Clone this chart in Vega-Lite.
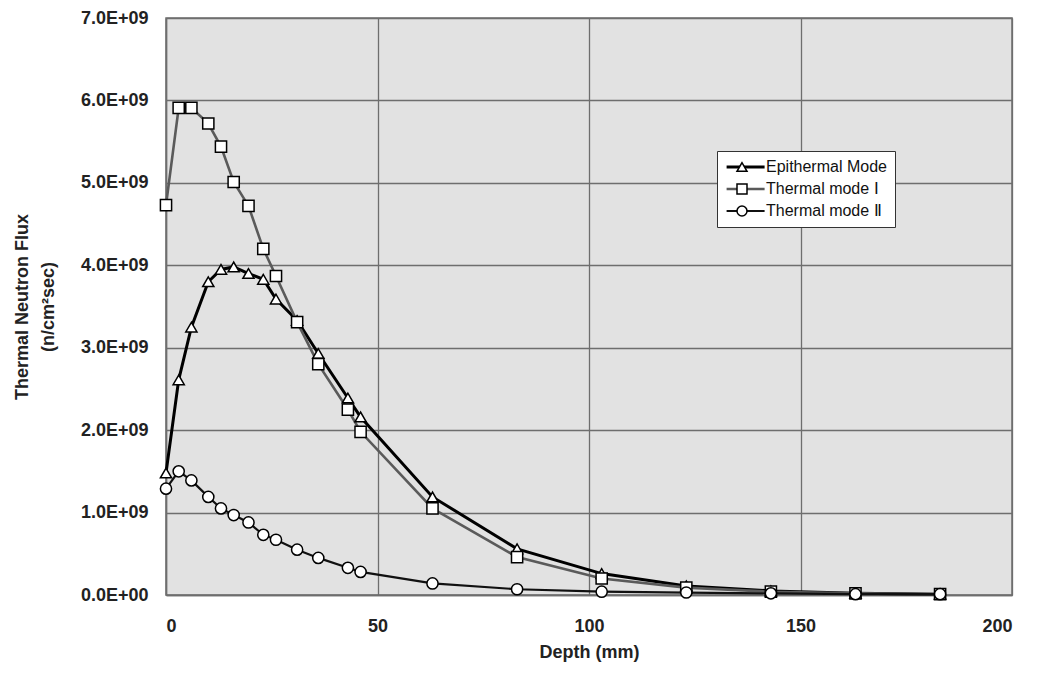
{
  "$schema": "https://vega.github.io/schema/vega-lite/v6.json",
  "autosize": {"type": "none"},
  "padding": {"left": 166, "top": 18, "right": 25, "bottom": 91},
  "width": 846,
  "height": 577,
  "background": "white",
  "config": {
    "font": "Liberation Sans",
    "view": {"fill": "#e2e2e2", "stroke": "#6e6e6e", "strokeWidth": 1.5},
    "axis": {
      "gridColor": "#6e6e6e", "gridWidth": 1.3, "gridOpacity": 1,
      "domainColor": "#6e6e6e", "domainWidth": 1.5,
      "ticks": false,
      "labelFont": "Liberation Sans", "labelFontSize": 18, "labelFontWeight": "bold", "labelColor": "#222222",
      "titleFont": "Liberation Sans", "titleFontSize": 18, "titleFontWeight": "bold", "titleColor": "#222222"
    }
  },
  "data": {"values": [
    {"series": "Epithermal Mode", "depth": 0, "flux": 1480000000},
    {"series": "Epithermal Mode", "depth": 3, "flux": 2610000000},
    {"series": "Epithermal Mode", "depth": 6, "flux": 3250000000},
    {"series": "Epithermal Mode", "depth": 10, "flux": 3800000000},
    {"series": "Epithermal Mode", "depth": 13, "flux": 3950000000},
    {"series": "Epithermal Mode", "depth": 16, "flux": 3980000000},
    {"series": "Epithermal Mode", "depth": 19.5, "flux": 3900000000},
    {"series": "Epithermal Mode", "depth": 23, "flux": 3830000000},
    {"series": "Epithermal Mode", "depth": 26, "flux": 3590000000},
    {"series": "Epithermal Mode", "depth": 31, "flux": 3330000000},
    {"series": "Epithermal Mode", "depth": 36, "flux": 2930000000},
    {"series": "Epithermal Mode", "depth": 43, "flux": 2390000000},
    {"series": "Epithermal Mode", "depth": 46, "flux": 2160000000},
    {"series": "Epithermal Mode", "depth": 63, "flux": 1190000000},
    {"series": "Epithermal Mode", "depth": 83, "flux": 560000000},
    {"series": "Epithermal Mode", "depth": 103, "flux": 260000000},
    {"series": "Epithermal Mode", "depth": 123, "flux": 110000000},
    {"series": "Epithermal Mode", "depth": 143, "flux": 50000000},
    {"series": "Epithermal Mode", "depth": 163, "flux": 20000000},
    {"series": "Epithermal Mode", "depth": 183, "flux": 10000000},
    {"series": "Thermal mode Ⅰ", "depth": 0, "flux": 4730000000},
    {"series": "Thermal mode Ⅰ", "depth": 3, "flux": 5910000000},
    {"series": "Thermal mode Ⅰ", "depth": 6, "flux": 5910000000},
    {"series": "Thermal mode Ⅰ", "depth": 10, "flux": 5720000000},
    {"series": "Thermal mode Ⅰ", "depth": 13, "flux": 5440000000},
    {"series": "Thermal mode Ⅰ", "depth": 16, "flux": 5010000000},
    {"series": "Thermal mode Ⅰ", "depth": 19.5, "flux": 4720000000},
    {"series": "Thermal mode Ⅰ", "depth": 23, "flux": 4200000000},
    {"series": "Thermal mode Ⅰ", "depth": 26, "flux": 3870000000},
    {"series": "Thermal mode Ⅰ", "depth": 31, "flux": 3310000000},
    {"series": "Thermal mode Ⅰ", "depth": 36, "flux": 2800000000},
    {"series": "Thermal mode Ⅰ", "depth": 43, "flux": 2250000000},
    {"series": "Thermal mode Ⅰ", "depth": 46, "flux": 1980000000},
    {"series": "Thermal mode Ⅰ", "depth": 63, "flux": 1050000000},
    {"series": "Thermal mode Ⅰ", "depth": 83, "flux": 460000000},
    {"series": "Thermal mode Ⅰ", "depth": 103, "flux": 200000000},
    {"series": "Thermal mode Ⅰ", "depth": 123, "flux": 90000000},
    {"series": "Thermal mode Ⅰ", "depth": 143, "flux": 40000000},
    {"series": "Thermal mode Ⅰ", "depth": 163, "flux": 20000000},
    {"series": "Thermal mode Ⅰ", "depth": 183, "flux": 10000000},
    {"series": "Thermal mode Ⅱ", "depth": 0, "flux": 1290000000},
    {"series": "Thermal mode Ⅱ", "depth": 3, "flux": 1500000000},
    {"series": "Thermal mode Ⅱ", "depth": 6, "flux": 1390000000},
    {"series": "Thermal mode Ⅱ", "depth": 10, "flux": 1190000000},
    {"series": "Thermal mode Ⅱ", "depth": 13, "flux": 1050000000},
    {"series": "Thermal mode Ⅱ", "depth": 16, "flux": 970000000},
    {"series": "Thermal mode Ⅱ", "depth": 19.5, "flux": 880000000},
    {"series": "Thermal mode Ⅱ", "depth": 23, "flux": 730000000},
    {"series": "Thermal mode Ⅱ", "depth": 26, "flux": 670000000},
    {"series": "Thermal mode Ⅱ", "depth": 31, "flux": 550000000},
    {"series": "Thermal mode Ⅱ", "depth": 36, "flux": 450000000},
    {"series": "Thermal mode Ⅱ", "depth": 43, "flux": 330000000},
    {"series": "Thermal mode Ⅱ", "depth": 46, "flux": 280000000},
    {"series": "Thermal mode Ⅱ", "depth": 63, "flux": 140000000},
    {"series": "Thermal mode Ⅱ", "depth": 83, "flux": 70000000},
    {"series": "Thermal mode Ⅱ", "depth": 103, "flux": 40000000},
    {"series": "Thermal mode Ⅱ", "depth": 123, "flux": 30000000},
    {"series": "Thermal mode Ⅱ", "depth": 143, "flux": 20000000},
    {"series": "Thermal mode Ⅱ", "depth": 163, "flux": 10000000},
    {"series": "Thermal mode Ⅱ", "depth": 183, "flux": 10000000}
  ]},
  "encoding": {
    "x": {"field": "depth", "type": "quantitative",
      "scale": {"domain": [0, 200], "nice": false},
      "axis": {"title": "Depth (mm)", "values": [0, 50, 100, 150, 200], "labelPadding": 22,
        "titleY": 57, "titleBaseline": "middle"}},
    "y": {"field": "flux", "type": "quantitative",
      "scale": {"domain": [0, 7000000000], "nice": false},
      "axis": {"title": ["Thermal Neutron Flux", "(n/cm²sec)"],
        "values": [0, 1000000000, 2000000000, 3000000000, 4000000000, 5000000000, 6000000000, 7000000000],
        "labelExpr": "datum.value == 0 ? '0.0E+00' : format(datum.value / 1e9, '.1f') + 'E+09'",
        "labelPadding": 18, "titleX": -144, "titleBaseline": "middle", "titleLineHeight": 26}}
  },
  "layer": [
    {
      "mark": {"type": "line"},
      "encoding": {
        "stroke": {"field": "series", "type": "nominal",
          "scale": {"range": ["#000000", "#5a5a5a", "#111111"]},
          "legend": {
            "title": null, "orient": "none", "legendX": 551, "legendY": 133, "zindex": 1,
            "fillColor": "white", "strokeColor": "#333333", "padding": 8,
            "labelFont": "Liberation Sans", "labelFontSize": 16, "labelColor": "#111111",
            "labelOffset": 25, "rowPadding": 6,
            "symbolType": "M-3.2,0H15.8", "symbolSize": 16
          }},
        "strokeWidth": {"field": "series", "type": "nominal",
          "scale": {"range": [3, 2.2, 2]}}
      }
    },
    {
      "mark": {"type": "point", "filled": true, "fill": "white", "stroke": "black", "strokeWidth": 1.5, "size": 125, "opacity": 1},
      "encoding": {
        "shape": {"field": "series", "type": "nominal",
          "scale": {"domain": ["Epithermal Mode", "Thermal mode Ⅰ", "Thermal mode Ⅱ"], "range": ["triangle-up", "square", "circle"]},
          "legend": {
            "title": null, "orient": "none", "legendX": 560, "legendY": 133, "zindex": 2,
            "padding": 8,
            "labelFont": "Liberation Sans", "labelFontSize": 16, "labelOpacity": 0,
            "labelExpr": "' '",
            "rowPadding": 6, "symbolSize": 100,
            "encoding": {"symbols": {
              "fill": {"value": "white"},
              "stroke": {"value": "black"},
              "strokeWidth": {"value": 1.5},
              "opacity": {"value": 1}
            }}
          }
        }
      }
    }
  ]
}
